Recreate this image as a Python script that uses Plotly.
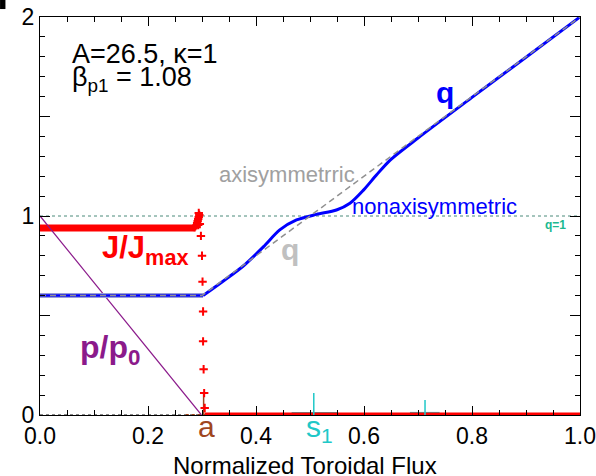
import plotly.graph_objects as go

# ---- data ----
q_axi_x = [0.0, 0.30, 1.0]
q_axi_y = [0.60, 0.60, 2.0]

q_flat_x = [0.0, 0.302]
q_flat_y = [0.60, 0.60]
q_non_x = [0.302, 0.339, 0.377, 0.414, 0.444, 0.475, 0.512, 0.549, 0.574, 0.599, 0.623, 0.648, 0.70, 0.80, 0.90, 1.0]
q_non_y = [0.600, 0.672, 0.750, 0.846, 0.930, 0.980, 1.008, 1.030, 1.064, 1.130, 1.206, 1.280, 1.392, 1.596, 1.798, 2.0]

p_x = [0.0, 0.299]
p_y = [1.0, 0.0]

j_flat_x = [0.0, 0.288]
j_flat_y = [0.94, 0.94]
j_cross_x = [0.286, 0.288, 0.290, 0.291, 0.292, 0.293, 0.293, 0.294, 0.295, 0.294, 0.296, 0.298, 0.300, 0.301, 0.302, 0.302, 0.303, 0.304, 0.305]
j_cross_y = [0.945, 0.950, 0.955, 0.965, 0.975, 0.985, 0.955, 0.995, 1.005, 1.015, 0.960, 0.900, 0.800, 0.670, 0.520, 0.370, 0.230, 0.110, 0.035]
j_zero_x = [0.305, 1.0]
j_zero_y = [0.0, 0.0]

q1_x = [0.0, 1.0]
q1_y = [1.0, 1.0]

s_ticks_x = [0.507, 0.713]
s_ticks_h = [0.11, 0.075]
s_seg_x0 = [0.466, 0.685]
s_seg_x1 = [0.550, 0.740]

x_ticks = [0.0, 0.2, 0.4, 0.6, 0.8, 1.0]
x_ticklabels = ["0.0", "0.2", "0.4", "0.6", "0.8", "1.0"]
y_ticks = [0, 0.5, 1, 1.5, 2]
y_ticklabels = ["0", "", "1", "", "2"]

RED = "#ff0000"
BLUE = "#0000ff"
GRAY = "#a0a0a0"
PURPLE = "#8b1a8b"
CYAN = "#20c8c8"
BROWN = "#a0461e"
GREEN = "#20b890"

fig = go.Figure()

# baseline gray dotted and brown segment near axis
fig.add_trace(go.Scatter(x=[0.0, 0.30], y=[0.0, 0.0], mode="lines",
                         line=dict(color="#888888", width=2, dash="dot"), hoverinfo="skip"))
fig.add_trace(go.Scatter(x=[0.27, 0.35], y=[0.0, 0.0], mode="lines",
                         line=dict(color=BROWN, width=2, dash="dot"), hoverinfo="skip"))

# q = 1 dotted
fig.add_trace(go.Scatter(x=q1_x, y=q1_y, mode="lines",
                         line=dict(color="#4a8a7a", width=1, dash="dot"), hoverinfo="skip"))

# cyan surface markers
for i in range(len(s_seg_x0)):
    fig.add_trace(go.Scatter(x=[s_seg_x0[i], s_seg_x1[i]], y=[0.008, 0.008], mode="lines",
                             line=dict(color=CYAN, width=3), hoverinfo="skip"))

# red J profile
fig.add_trace(go.Scatter(x=j_zero_x, y=j_zero_y, mode="lines",
                         line=dict(color=RED, width=5), hoverinfo="skip"))
fig.add_trace(go.Scatter(x=j_flat_x, y=j_flat_y, mode="lines",
                         line=dict(color=RED, width=7), hoverinfo="skip"))

for i in range(len(s_ticks_x)):
    fig.add_trace(go.Scatter(x=[s_ticks_x[i], s_ticks_x[i]], y=[0.0, s_ticks_h[i]], mode="lines",
                             line=dict(color=CYAN, width=1.5), hoverinfo="skip"))
fig.add_trace(go.Scatter(x=[0.303, 0.303], y=[0.0, 0.11], mode="lines",
                         line=dict(color=BROWN, width=1.5), hoverinfo="skip"))

fig.add_trace(go.Scatter(x=j_cross_x, y=j_cross_y, mode="markers",
                         marker=dict(symbol="cross-thin", size=6, line=dict(color=RED, width=2)),
                         hoverinfo="skip"))

# pressure
fig.add_trace(go.Scatter(x=p_x, y=p_y, mode="lines",
                         line=dict(color=PURPLE, width=1.2), hoverinfo="skip"))

# q profiles
fig.add_trace(go.Scatter(x=q_flat_x, y=q_flat_y, mode="lines",
                         line=dict(color="#9aa0d8", width=5), hoverinfo="skip"))
fig.add_trace(go.Scatter(x=q_flat_x, y=q_flat_y, mode="lines",
                         line=dict(color=BLUE, width=2.5), hoverinfo="skip"))
fig.add_trace(go.Scatter(x=q_non_x, y=q_non_y, mode="lines", line_shape="spline",
                         line=dict(color=BLUE, width=3, smoothing=0.8), hoverinfo="skip"))
fig.add_trace(go.Scatter(x=q_axi_x, y=q_axi_y, mode="lines",
                         line=dict(color="#909090", width=1.5, dash="6px,4px"), hoverinfo="skip"))

FONT = "Liberation Sans, Arial, Helvetica, sans-serif"

ann = [
    dict(x=0.055, y=1.815, text="A=26.5, κ=1", font=dict(size=27, color="black"), xanchor="left"),
    dict(x=0.055, y=1.69, text="β<sub>p1</sub> = 1.08", font=dict(size=27, color="black"), xanchor="left"),
    dict(x=0.196, y=0.83, text="<b>J/J<sub>max</sub></b>", font=dict(size=31, color=RED), xanchor="center"),
    dict(x=0.13, y=0.33, text="<b>p/p<sub>0</sub></b>", font=dict(size=32, color=PURPLE), xanchor="center"),
    dict(x=0.75, y=1.62, text="<b>q</b>", font=dict(size=30, color=BLUE), xanchor="center"),
    dict(x=0.463, y=0.83, text="<b>q</b>", font=dict(size=30, color="#c0c0c0"), xanchor="center"),
    dict(x=0.458, y=1.21, text="axisymmetrric", font=dict(size=22, color=GRAY), xanchor="center"),
    dict(x=0.73, y=1.05, text="nonaxisymmetric", font=dict(size=22, color=BLUE), xanchor="center"),
    dict(x=0.954, y=0.955, text="<b>q=1</b>", font=dict(size=12, color=GREEN), xanchor="center"),
]
for a in ann:
    a.update(xref="x", yref="y", showarrow=False, yanchor="middle")
    fig.add_annotation(**a)

# labels below the axis (paper y)
fig.add_annotation(x=0.309, y=-0.028, xref="x", yref="paper", text="a", showarrow=False,
                   font=dict(size=30, color=BROWN), xanchor="center", yanchor="middle")
fig.add_annotation(x=0.518, y=-0.035, xref="x", yref="paper", text="s<sub>1</sub>", showarrow=False,
                   font=dict(size=30, color=CYAN), xanchor="center", yanchor="middle")
fig.add_annotation(x=0.491, y=-0.128, xref="paper", yref="paper", text="Normalized Toroidal Flux",
                   showarrow=False, font=dict(size=24, color="black"), xanchor="center", yanchor="middle")

fig.add_shape(type="rect", xref="paper", yref="paper", x0=-0.074, x1=-0.064, y0=1.02, y1=1.05,
              fillcolor="black", line=dict(width=0))

fig.update_layout(
    width=596, height=476,
    margin=dict(l=40, r=16, t=17, b=61),
    paper_bgcolor="white", plot_bgcolor="white",
    showlegend=False,
    font=dict(family=FONT, color="black", size=23),
    xaxis=dict(range=[0, 1], tickvals=x_ticks, ticktext=x_ticklabels, automargin=False,
               ticks="inside", ticklen=9, tickwidth=1, tickcolor="black",
               minor=dict(dtick=0.05, ticks="inside", ticklen=5, tickcolor="black", tickwidth=1),
               showline=True, linecolor="black", linewidth=1, mirror="allticks",
               showgrid=False, zeroline=False, tickfont=dict(size=23)),
    yaxis=dict(range=[0, 2], tickvals=y_ticks, ticktext=y_ticklabels, automargin=False,
               ticks="inside", ticklen=10, tickwidth=1, tickcolor="black",
               minor=dict(dtick=0.1, ticks="inside", ticklen=5, tickcolor="black", tickwidth=1),
               showline=True, linecolor="black", linewidth=1, mirror="allticks",
               showgrid=False, zeroline=False, tickfont=dict(size=23)),
)

fig.write_html("out.html")
